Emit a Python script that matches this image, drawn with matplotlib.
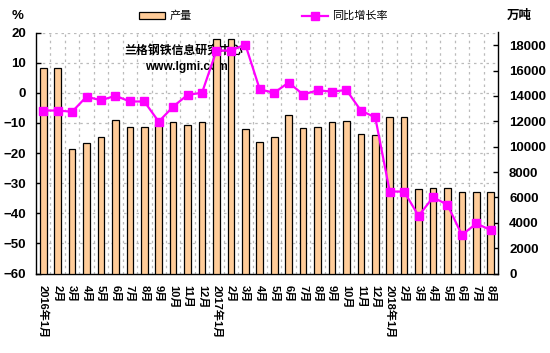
import matplotlib
matplotlib.use("Agg")
import matplotlib.pyplot as plt
from matplotlib.lines import Line2D
from matplotlib.patches import Patch
from matplotlib.ticker import FixedLocator, MultipleLocator

plt.rcParams['font.family'] = ['Liberation Sans', 'Noto Sans CJK SC', 'DejaVu Sans']

months_2016 = [f"{m}月" for m in range(1, 13)]
months_2017 = [f"{m}月" for m in range(1, 13)]
months_2018 = [f"{m}月" for m in range(1, 9)]
months_2016[0] = "2016年1月"
months_2017[0] = "2017年1月"
months_2018[0] = "2018年1月"
categories = months_2016 + months_2017 + months_2018

production = [16200, 16200, 9780, 10280, 10780, 12090, 11540, 11540, 11800, 11930, 11700, 11930,
              18450, 18450, 11400, 10360, 10780, 12480, 11490, 11560, 11930, 12010, 10990, 10940,
              12330, 12330, 6640, 6720, 6720, 6410, 6390, 6400]
growth = [-5.9, -5.9, -6.3, -1.3, -2.5, -1.0, -2.9, -2.9, -9.6, -4.6, -0.7, 0.0,
          14.0, 14.0, 16.0, 1.1, 0.0, 3.4, -0.6, 0.8, 0.4, 0.9, -5.9, -8.2,
          -32.8, -32.8, -40.9, -34.7, -37.2, -47.2, -43.4, -45.6]

W, H = 550, 353
fig = plt.figure(figsize=(W / 100, H / 100), dpi=100)
L, R, T, B = 36, 498, 32.5, 273.5
ax = fig.add_axes([L / W, 1 - B / H, (R - L) / W, (B - T) / H])
x = list(range(len(categories)))

# base axis: left scale, grid
ax.set_ylim(-60, 20)
ax.set_xlim(-0.5, len(categories) - 0.5)
ax.yaxis.set_major_locator(MultipleLocator(10))
ax.xaxis.set_major_locator(FixedLocator(x))
ax.xaxis.set_minor_locator(FixedLocator([i + 0.5 for i in x[:-1]]))
ax.set_xticklabels(categories, rotation=270, fontsize=8, fontweight='bold',
                   ha='center', va='top', rotation_mode='default')
ax.tick_params(axis='x', which='both', length=0, pad=8)
ax.tick_params(axis='y', direction='in', length=3.5, width=1, pad=7,
               labelsize=9.5)
for lab in ax.get_yticklabels():
    lab.set_fontweight('bold')
ax.grid(True, axis='y', which='major', color='#BBBBBB', linestyle=(0, (2, 3)), linewidth=0.9)
ax.grid(True, axis='x', which='minor', color='#BBBBBB', linestyle=(0, (2, 3)), linewidth=0.9)
ax.set_axisbelow(True)
for s in ['top', 'right']:
    ax.spines[s].set_visible(False)
ax.spines['left'].set_linewidth(1)
ax.spines['bottom'].set_linewidth(1)

ax.text(0.319, 0.9245, "兰格钢铁信息研究中心", transform=ax.transAxes, ha='center', va='center',
        fontsize=8.6, fontweight='bold', zorder=2, family=['Noto Sans CJK SC'])
ax.text(0.326, 0.858, "www.lgmi.com", transform=ax.transAxes, ha='center', va='center',
        fontsize=8.6, fontweight='bold', zorder=2)

# bars on right scale
ax2 = ax.twinx()
ax2.set_ylim(0, 19000)
ax2.yaxis.set_major_locator(FixedLocator(range(0, 18001, 2000)))
ax2.bar(x, production, width=0.46, color='#FFCC99', edgecolor='black', linewidth=0.9, zorder=2)
ax2.tick_params(axis='y', direction='in', length=3.5, width=1, pad=8, labelsize=9.5)
for lab in ax2.get_yticklabels():
    lab.set_fontweight('bold')
for s in ['top', 'left', 'bottom']:
    ax2.spines[s].set_visible(False)
ax2.spines['right'].set_linewidth(1)

# line on left scale
ax3 = ax.twinx()
ax3.set_ylim(-60, 20)
ax3.plot(x, growth, color='#FF00FF', linewidth=1.6, marker='s', markersize=5.5,
         markerfacecolor='#FF00FF', markeredgecolor='#FF00FF', clip_on=False)
ax3.set_yticks([])
for s in ax3.spines.values():
    s.set_visible(False)

fig.text(12 / W, 1 - 16 / H, "%", fontsize=9.5, fontweight='bold', ha='left', va='center')
fig.text(507 / W, 1 - 15 / H, "万吨", fontsize=9, fontweight='bold', ha='left', va='center',
         family=['Noto Sans CJK SC'])

handles = [Patch(facecolor='#FFCC99', edgecolor='black', linewidth=0.9),
           Line2D([], [], color='#FF00FF', linewidth=1.6, marker='s', markersize=5.5)]
fig.legend(handles, ["产量", "同比增长率"], loc='center left',
           bbox_to_anchor=(139 / W, 1 - 16 / H), ncol=2, frameon=False,
           fontsize=8, handlelength=2.35, handleheight=0.6, handletextpad=0.4,
           columnspacing=9.9, borderpad=0, borderaxespad=0,
           prop={'family': ['Noto Sans CJK SC'], 'size': 8})

fig.savefig("out.png", dpi=100)
